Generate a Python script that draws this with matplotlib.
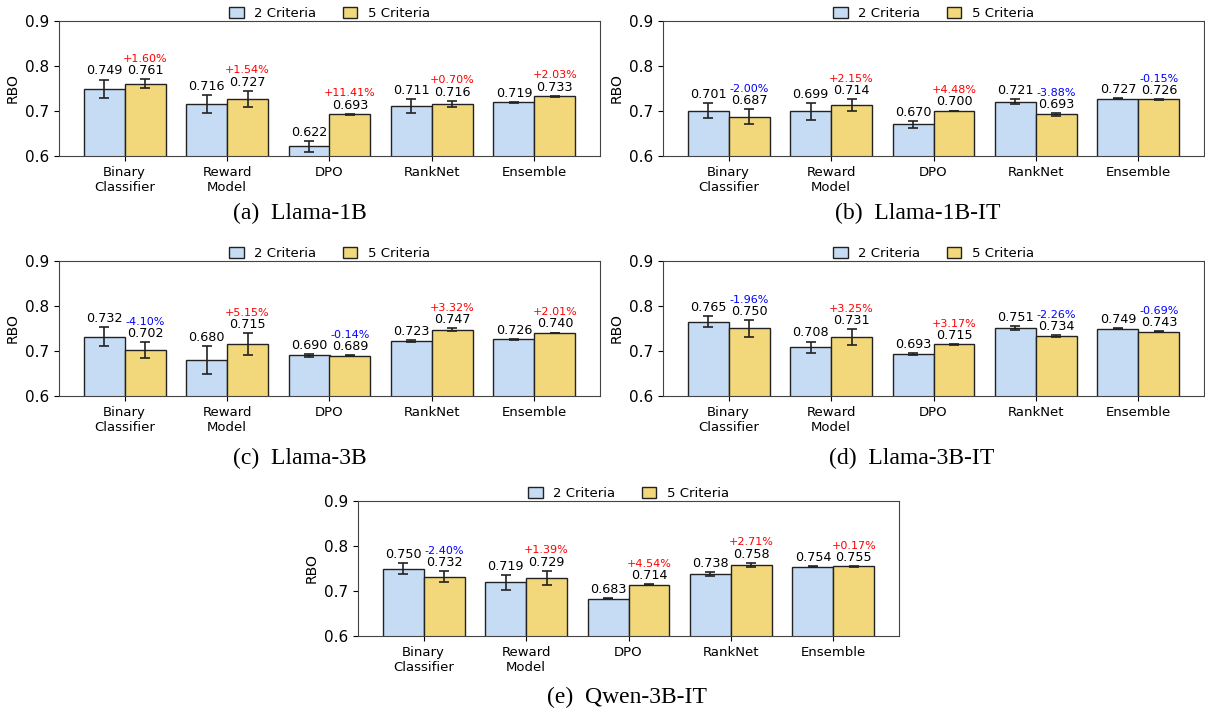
"""RBO of 2 vs 5 criteria across methods and models"""

import numpy as np
from matplotlib import pyplot as plt

methods = ["Binary\nClassifier", "Reward\nModel", "DPO", "RankNet", "Ensemble"]

# (a) Llama-1B
l1b_two = [0.749, 0.716, 0.622, 0.711, 0.719]
l1b_two_err = [0.021, 0.020, 0.012, 0.015, 0.001]
l1b_five = [0.761, 0.727, 0.693, 0.716, 0.733]
l1b_five_err = [0.010, 0.018, 0.001, 0.007, 0.001]
l1b_pct = [1.60, 1.54, 11.41, 0.70, 2.03]

# (b) Llama-1B-IT
l1bit_two = [0.701, 0.699, 0.670, 0.721, 0.727]
l1bit_two_err = [0.016, 0.019, 0.007, 0.006, 0.001]
l1bit_five = [0.687, 0.714, 0.700, 0.693, 0.726]
l1bit_five_err = [0.017, 0.013, 0.001, 0.003, 0.001]
l1bit_pct = [-2.00, 2.15, 4.48, -3.88, -0.15]

# (c) Llama-3B
l3b_two = [0.732, 0.680, 0.690, 0.723, 0.726]
l3b_two_err = [0.021, 0.032, 0.003, 0.002, 0.001]
l3b_five = [0.702, 0.715, 0.689, 0.747, 0.740]
l3b_five_err = [0.017, 0.024, 0.001, 0.003, 0.001]
l3b_pct = [-4.10, 5.15, -0.14, 3.32, 2.01]

# (d) Llama-3B-IT
l3bit_two = [0.765, 0.708, 0.693, 0.751, 0.749]
l3bit_two_err = [0.012, 0.013, 0.003, 0.004, 0.001]
l3bit_five = [0.750, 0.731, 0.715, 0.734, 0.743]
l3bit_five_err = [0.019, 0.017, 0.001, 0.002, 0.001]
l3bit_pct = [-1.96, 3.25, 3.17, -2.26, -0.69]

# (e) Qwen-3B-IT
qwen_two = [0.750, 0.719, 0.683, 0.738, 0.754]
qwen_two_err = [0.013, 0.017, 0.001, 0.004, 0.001]
qwen_five = [0.732, 0.729, 0.714, 0.758, 0.755]
qwen_five_err = [0.012, 0.016, 0.001, 0.005, 0.001]
qwen_pct = [-2.40, 1.39, 4.54, 2.71, 0.17]

panels = [
    ("(a)  Llama-1B", l1b_two, l1b_two_err, l1b_five, l1b_five_err, l1b_pct),
    ("(b)  Llama-1B-IT", l1bit_two, l1bit_two_err, l1bit_five, l1bit_five_err, l1bit_pct),
    ("(c)  Llama-3B", l3b_two, l3b_two_err, l3b_five, l3b_five_err, l3b_pct),
    ("(d)  Llama-3B-IT", l3bit_two, l3bit_two_err, l3bit_five, l3bit_five_err, l3bit_pct),
    ("(e)  Qwen-3B-IT", qwen_two, qwen_two_err, qwen_five, qwen_five_err, qwen_pct),
]

W, H = 1205, 711
# axes boxes in pixels: left, top, right, bottom ; caption centre x, y
boxes = [
    (59, 21, 600, 156, 300, 213),
    (663, 21, 1204, 156, 918, 213),
    (59, 261, 600, 396, 300, 458),
    (663, 261, 1204, 396, 912, 458),
    (358, 501, 899, 636, 627, 697),
]

BLUE = "#c6dcf4"
YELLOW = "#f2d87a"

fig = plt.figure(figsize=(W / 100, H / 100), dpi=100)

x = np.arange(len(methods))
w = 0.4
for (cap, two, two_e, five, five_e, pct), (l, t, r, b, cx, cy) in zip(panels, boxes):
    ax = fig.add_axes([l / W, 1 - b / H, (r - l) / W, (b - t) / H])
    ekw = dict(elinewidth=1.2, capthick=1.2, ecolor="#222222")
    ax.bar(x - w / 2, two, w, yerr=two_e, capsize=3.3, color=BLUE,
           edgecolor="#222222", linewidth=1, label="2 Criteria", error_kw=ekw)
    ax.bar(x + w / 2, five, w, yerr=five_e, capsize=3.3, color=YELLOW,
           edgecolor="#222222", linewidth=1, label="5 Criteria", error_kw=ekw)

    for i in range(len(methods)):
        ax.annotate(f"{two[i]:.3f}", (x[i] - w / 2, two[i] + two_e[i]),
                    xytext=(0, 1.5), textcoords="offset points",
                    ha="center", va="bottom", fontsize=9.2)
        ax.annotate(f"{five[i]:.3f}", (x[i] + w / 2, five[i] + five_e[i]),
                    xytext=(0, 1.5), textcoords="offset points",
                    ha="center", va="bottom", fontsize=9.2)
        p = pct[i]
        ax.annotate(f"{p:+.2f}%", (x[i] + w / 2, five[i] + five_e[i]),
                    xytext=(0, 11), textcoords="offset points",
                    ha="center", va="bottom", fontsize=8,
                    color="red" if p > 0 else "blue")

    ax.set_ylim(0.6, 0.9)
    ax.set_yticks([0.6, 0.7, 0.8, 0.9])
    ax.set_xticks(x)
    ax.set_xticklabels(methods, fontsize=9.5)
    ax.tick_params(axis="y", labelsize=11)
    ax.set_ylabel("RBO", fontsize=10, labelpad=4)
    for s in ax.spines.values():
        s.set_color("#444444")
    ax.legend(loc="lower center", bbox_to_anchor=(0.5, 0.99), ncol=2,
              frameon=False, fontsize=9.5, handlelength=1.1, handleheight=0.9,
              borderaxespad=0, borderpad=0.2, columnspacing=2.0)

    fig.text(cx / W, 1 - cy / H, cap, ha="center", va="center",
             fontsize=17, family="Liberation Serif")

plt.savefig("out.png", dpi=100)
